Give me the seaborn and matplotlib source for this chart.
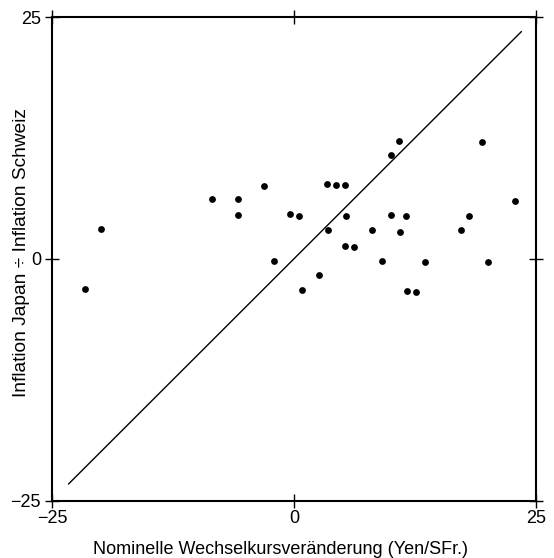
import matplotlib
matplotlib.use("Agg")
import matplotlib.pyplot as plt
import seaborn as sns
import numpy as np
import pandas as pd

sns.set_theme(style="white")
plt.rcParams['font.family'] = ['Liberation Sans', 'DejaVu Sans']

# Nominal exchange rate change (Yen/SFr.)
wechselkurs = [-21.6, -19.9, -8.5, -5.8, -5.75, -3.1, -2.1, -0.38, 0.55, 0.79,
               2.58, 3.44, 3.48, 4.37, 5.3, 5.34, 5.23, 6.16, 8.09, 9.06,
               10.0, 10.85, 10.05, 10.95, 11.6, 11.64, 12.57, 13.57, 17.3,
               18.05, 19.4, 20.0, 22.8]
# Inflation Japan minus inflation Switzerland
inflation_diff = [-3.1, 3.05, 6.2, 6.2, 4.5, 7.5, -0.26, 4.6, 4.4, -3.19,
                  -1.7, 7.7, 2.95, 7.65, 7.65, 4.4, 1.33, 1.26, 2.98, -0.19,
                  10.7, 12.2, 4.57, 2.77, 4.4, -3.36, -3.4, -0.36, 2.95,
                  4.4, 12.06, -0.29, 5.95]
diag_line = [-23.3, 23.5]
ticks = [-25, 0, 25]
tick_labels = ["\u221225", "0", "25"]

df = pd.DataFrame({"x": wechselkurs, "y": inflation_diff})
line_df = pd.DataFrame({"x": diag_line, "y": diag_line})

fig = plt.figure(figsize=(5.54, 5.58), dpi=100)
ax = fig.add_axes([52/554, 1-500.5/558, (536-52)/554, (500.5-17)/558])

sns.lineplot(data=line_df, x="x", y="y", ax=ax, color="black", linewidth=1.0)
sns.scatterplot(data=df, x="x", y="y", ax=ax, color="black", s=24,
                edgecolor="black", linewidth=0)

ax.set_xlim(-25, 25)
ax.set_ylim(-25, 25)
ax.set_xticks(ticks)
ax.set_xticklabels(tick_labels)
ax.set_yticks(ticks)
ax.set_yticklabels(tick_labels)
for s in ax.spines.values():
    s.set_visible(True)
    s.set_color("black")
    s.set_linewidth(1.5)
ax.tick_params(axis="both", direction="inout", length=10, width=1.0,
               labelsize=13, colors="black")
ax.tick_params(axis="x", pad=1.5)
ax.tick_params(axis="y", pad=3)
ax.tick_params(top=True, right=True, bottom=True, left=True)
ax.tick_params(axis="x", which="both", labeltop=False)
ax.tick_params(axis="y", which="both", labelright=False)

ax.set_xlabel("Nominelle Wechselkursveränderung (Yen/SFr.)", fontsize=13,
              color="black")
ax.set_ylabel("Inflation Japan \u00f7 Inflation Schweiz", fontsize=13.8,
              color="black")
ax.xaxis.set_label_coords(0.473, -0.083)
ax.yaxis.set_label_coords(-0.045, 0.512)

fig.savefig("out.png", dpi=100)
